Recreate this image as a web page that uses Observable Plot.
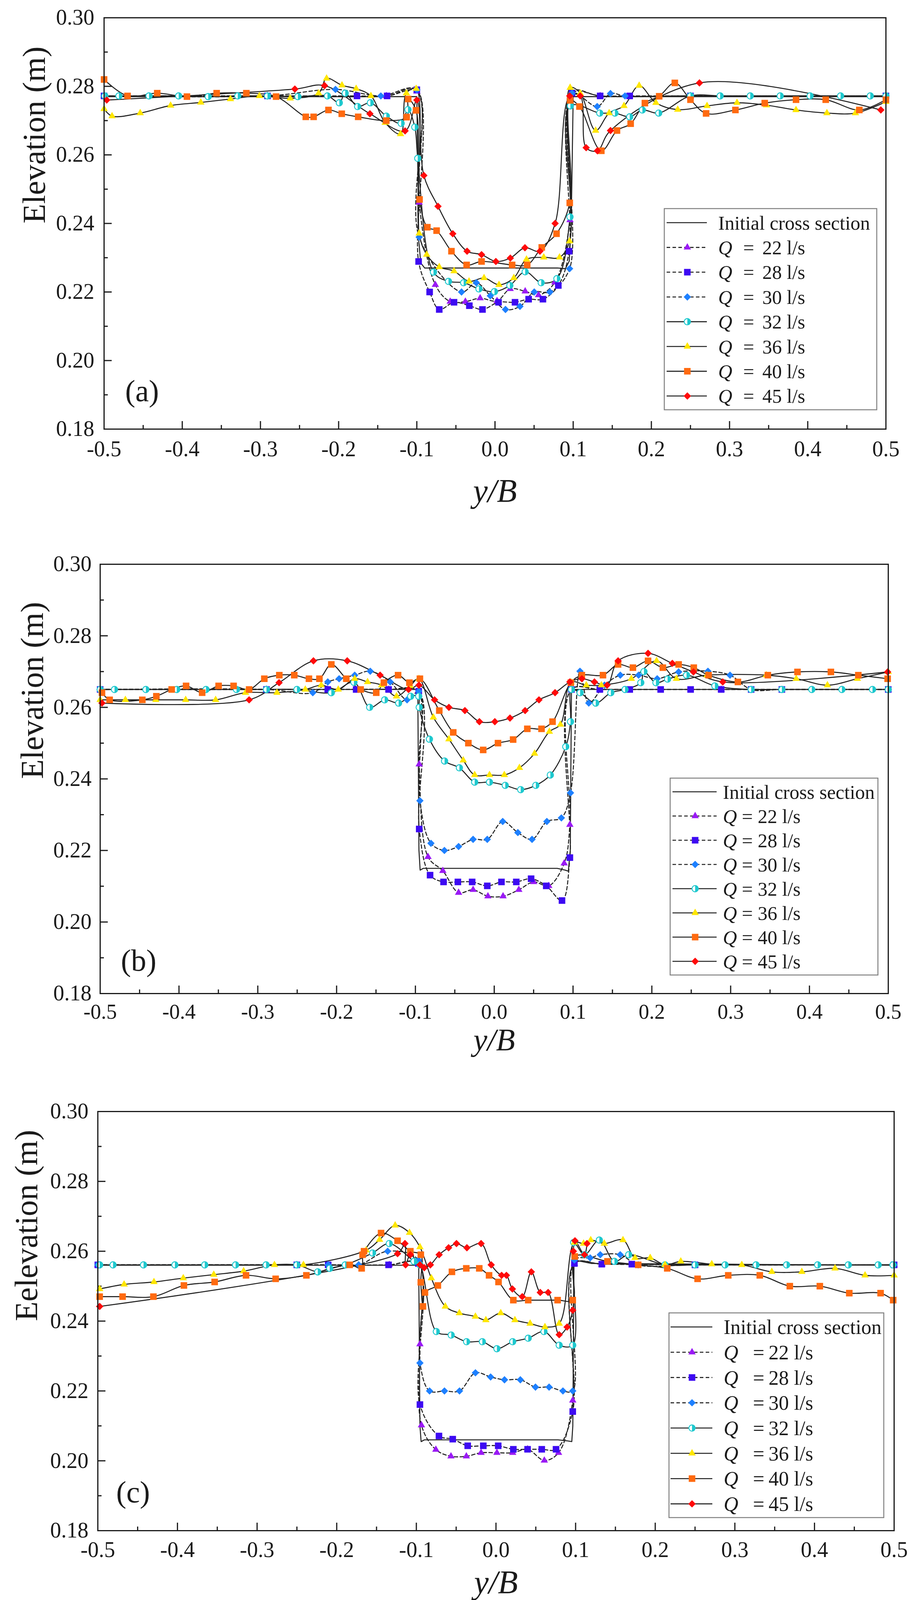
<!DOCTYPE html>
<html>
<head>
<meta charset="utf-8">
<script src="https://cdn.jsdelivr.net/npm/d3@7"></script>
<script src="https://cdn.jsdelivr.net/npm/@observablehq/plot@0.6"></script>
<style>
  html,body{margin:0;padding:0;background:#fff;overflow:hidden;}
  #c{position:relative;width:2366px;height:4132px;background:#fff;}
  #c svg{position:absolute;left:0;}
  #c svg text{font-family:"Liberation Serif","Times New Roman",Times,serif !important;font-variant:normal !important;}
  #c svg text.tick-x{font-size:56px !important;}
  #c svg text.tick-x54{font-size:54px !important;}
  #c svg text.tick-y{font-size:56px !important;}
</style>
</head>
<body>
<div id="c"></div>
<script>
// ---------- categories / labels ----------
const FLOWS = [22, 28, 30, 32, 36, 40, 45];
const COLORS = ["#9A1AF5", "#3D0AF2", "#1E80FF", "#1EC8CE", "#FFE600", "#FF6A10", "#FF0A0A"];
const SYMBOLS = ["triangle", "square", "diamond2", "circle", "triangle", "square", "diamond2"];
const DASHED = [true, true, true, false, false, false, false];
const LEGEND_INIT = "Initial cross section";
const X_MAJOR = [-0.5, -0.4, -0.3, -0.2, -0.1, 0.0, 0.1, 0.2, 0.3, 0.4, 0.5];
const X_MINOR = [-0.45, -0.35, -0.25, -0.15, -0.05, 0.05, 0.15, 0.25, 0.35, 0.45];
const Y_MAJOR = [0.18, 0.20, 0.22, 0.24, 0.26, 0.28, 0.30];
const Y_MINOR = [0.19, 0.21, 0.23, 0.25, 0.27, 0.29];

// ---------- panel (a) ----------
const aInit = [[-0.5,0.277],[-0.1,0.277],[-0.0975,0.235],[-0.095,0.2285],[-0.09,0.227],[0.08,0.227],[0.09,0.2268],[0.095,0.229],[0.0975,0.24],[0.1,0.277],[0.5,0.277]];
const a22 = [[-0.5,0.2772],[-0.291,0.2772],[-0.139,0.2772],[-0.1,0.2785],[-0.097,0.2461],[-0.0763,0.2221],[-0.0573,0.2172],[-0.0379,0.2172],[-0.019,0.2182],[0.0026,0.2174],[0.0194,0.2209],[0.0386,0.2202],[0.0557,0.2191],[0.0765,0.2228],[0.0959,0.241],[0.0985,0.2785],[0.1345,0.2772],[0.25,0.2772],[0.5,0.2772]];
const a28 = [[-0.5,0.2772],[-0.291,0.2772],[-0.1765,0.2772],[-0.138,0.2772],[-0.1,0.279],[-0.0977,0.2289],[-0.0836,0.22],[-0.0713,0.2149],[-0.0524,0.217],[-0.0328,0.216],[-0.016,0.2149],[0.0045,0.217],[0.0256,0.217],[0.043,0.2179],[0.0613,0.2179],[0.081,0.2219],[0.0948,0.2319],[0.0985,0.278],[0.1345,0.2772],[0.1723,0.2772],[0.25,0.2772],[0.5,0.2772]];
const a30 = [[-0.5,0.2772],[-0.291,0.2772],[-0.204,0.2791],[-0.146,0.2772],[-0.1,0.279],[-0.097,0.236],[-0.0428,0.22],[-0.0239,0.2227],[-0.006,0.2189],[0.0134,0.2149],[0.0319,0.2158],[0.0502,0.22],[0.0702,0.22],[0.0954,0.2268],[0.0985,0.278],[0.1307,0.2741],[0.1477,0.2779],[0.1663,0.2772],[0.25,0.2772],[0.5,0.2772]];
const a32 = [[-0.499,0.2772],[-0.481,0.2772],[-0.4425,0.2772],[-0.4046,0.2772],[-0.3668,0.277],[-0.329,0.2772],[-0.291,0.2772],[-0.2521,0.277],[-0.2143,0.2772],[-0.1991,0.2752],[-0.1916,0.278],[-0.1757,0.2741],[-0.1594,0.2752],[-0.139,0.2713],[-0.12,0.2692],[-0.1113,0.2732],[-0.1026,0.2681],[-0.0988,0.259],[-0.0787,0.2258],[-0.0595,0.2231],[-0.0401,0.2227],[-0.0205,0.2209],[-0.0007,0.2201],[0.019,0.2219],[0.0386,0.2259],[0.0591,0.2227],[0.0792,0.2239],[0.0959,0.2419],[0.0964,0.2743],[0.134,0.2722],[0.1534,0.2722],[0.1723,0.2711],[0.1885,0.2731],[0.2094,0.2722],[0.25,0.2772],[0.288,0.2772],[0.3265,0.2772],[0.3648,0.2772],[0.403,0.2772],[0.442,0.2772],[0.48,0.2772],[0.5,0.2772]];
const a36 = [[-0.5,0.2734],[-0.4898,0.2713],[-0.4538,0.2722],[-0.4149,0.2744],[-0.3763,0.2753],[-0.3384,0.2763],[-0.3013,0.2772],[-0.262,0.2765],[-0.2256,0.278],[-0.2154,0.2823],[-0.1957,0.2803],[-0.1776,0.2793],[-0.1587,0.2772],[-0.1405,0.2694],[-0.1208,0.2661],[-0.1133,0.278],[-0.1008,0.2793],[-0.097,0.2371],[-0.0874,0.2309],[-0.0713,0.2273],[-0.0524,0.2261],[-0.0332,0.2231],[-0.014,0.2241],[0.0051,0.2221],[0.0241,0.2241],[0.0403,0.2295],[0.0624,0.2301],[0.0825,0.2301],[0.0954,0.2348],[0.0961,0.2796],[0.109,0.278],[0.1287,0.2671],[0.146,0.2722],[0.165,0.2743],[0.1844,0.2802],[0.2058,0.2752],[0.2337,0.2732],[0.2712,0.2743],[0.3095,0.2752],[0.3472,0.2745],[0.385,0.2731],[0.4245,0.2722],[0.461,0.2722],[0.5,0.2755]];
const a40 = [[-0.5,0.282],[-0.47,0.2772],[-0.432,0.278],[-0.394,0.277],[-0.356,0.278],[-0.318,0.278],[-0.28,0.277],[-0.242,0.2711],[-0.232,0.2711],[-0.213,0.2731],[-0.196,0.272],[-0.175,0.2711],[-0.139,0.27],[-0.113,0.271],[-0.111,0.2763],[-0.101,0.273],[-0.0965,0.247],[-0.0865,0.2389],[-0.0747,0.2379],[-0.0557,0.2319],[-0.0363,0.2279],[-0.0172,0.2289],[0.0219,0.2279],[0.0412,0.2279],[0.0598,0.233],[0.0787,0.237],[0.0956,0.246],[0.0961,0.2759],[0.108,0.2741],[0.136,0.2612],[0.156,0.2671],[0.1735,0.2691],[0.1917,0.2751],[0.21,0.2771],[0.23,0.281],[0.25,0.2761],[0.27,0.2721],[0.3075,0.2731],[0.345,0.2751],[0.385,0.2761],[0.423,0.2761],[0.466,0.2731],[0.5,0.2761]];
const a45 = [[-0.4966,0.276],[-0.256,0.2792],[-0.218,0.2802],[-0.16,0.272],[-0.115,0.267],[-0.1,0.276],[-0.091,0.254],[-0.0729,0.245],[-0.054,0.237],[-0.0357,0.2319],[-0.0172,0.2309],[0.0011,0.2289],[0.0196,0.2299],[0.0383,0.2329],[0.0575,0.2319],[0.0769,0.24],[0.0956,0.2772],[0.109,0.2772],[0.1166,0.2621],[0.131,0.2612],[0.1477,0.2671],[0.2615,0.281],[0.4935,0.2731]];

// ---------- panel (b) ----------
const bInit = [[-0.5,0.265],[-0.097,0.265],[-0.0955,0.22],[-0.094,0.2145],[-0.09,0.215],[0.08,0.215],[0.09,0.2145],[0.094,0.2142],[0.0965,0.22],[0.098,0.265],[0.5,0.265]];
const b22 = [[-0.5,0.265],[-0.289,0.265],[-0.2112,0.265],[-0.134,0.265],[-0.0958,0.2645],[-0.0952,0.2441],[-0.084,0.2182],[-0.0652,0.2143],[-0.0452,0.2082],[-0.0268,0.209],[-0.008,0.2072],[0.0112,0.2072],[0.0312,0.209],[0.05,0.2112],[0.0692,0.2101],[0.0888,0.2164],[0.096,0.2272],[0.098,0.265],[0.134,0.265],[0.288,0.265],[0.5,0.265]];
const b28 = [[-0.5,0.265],[-0.289,0.265],[-0.2112,0.265],[-0.1752,0.265],[-0.134,0.265],[-0.0958,0.2645],[-0.0952,0.226],[-0.0814,0.2131],[-0.0643,0.2112],[-0.0461,0.2112],[-0.028,0.2112],[-0.0088,0.2101],[0.0092,0.2112],[0.028,0.2112],[0.0468,0.2121],[0.066,0.2101],[0.086,0.206],[0.096,0.218],[0.098,0.265],[0.134,0.265],[0.172,0.265],[0.2112,0.265],[0.2492,0.265],[0.288,0.265],[0.326,0.265],[0.365,0.265],[0.5,0.265]];
const b30 = [[-0.5,0.265],[-0.289,0.265],[-0.2302,0.2641],[-0.2112,0.2671],[-0.1968,0.268],[-0.177,0.269],[-0.1573,0.2701],[-0.132,0.2671],[-0.1106,0.2621],[-0.0958,0.2645],[-0.0943,0.2339],[-0.0803,0.222],[-0.0632,0.22],[-0.0452,0.2211],[-0.0268,0.2231],[-0.0088,0.2231],[0.0108,0.2281],[0.03,0.225],[0.048,0.2231],[0.0668,0.2281],[0.0852,0.2291],[0.0968,0.2361],[0.1088,0.2701],[0.12,0.2612],[0.14,0.2662],[0.16,0.269],[0.1832,0.269],[0.2068,0.268],[0.234,0.2699],[0.2712,0.2701],[0.2992,0.269],[0.326,0.265],[0.365,0.265],[0.5,0.265]];
const b32 = [[-0.5,0.265],[-0.4818,0.265],[-0.442,0.265],[-0.4028,0.265],[-0.3657,0.265],[-0.327,0.265],[-0.289,0.265],[-0.2503,0.265],[-0.2067,0.2641],[-0.178,0.267],[-0.158,0.26],[-0.139,0.2621],[-0.1213,0.2612],[-0.106,0.2631],[-0.0958,0.2631],[-0.0952,0.26],[-0.0822,0.2511],[-0.063,0.245],[-0.0442,0.2431],[-0.0248,0.2391],[-0.006,0.2391],[0.014,0.2382],[0.0336,0.237],[0.0528,0.2382],[0.0712,0.2411],[0.0908,0.249],[0.0968,0.256],[0.098,0.265],[0.109,0.2641],[0.1288,0.2612],[0.148,0.2641],[0.166,0.265],[0.186,0.2669],[0.19,0.27],[0.2052,0.2669],[0.22,0.2679],[0.244,0.269],[0.28,0.266],[0.326,0.265],[0.365,0.265],[0.403,0.265],[0.4412,0.265],[0.48,0.265],[0.5,0.265]];
const b36 = [[-0.5,0.2621],[-0.468,0.2621],[-0.4294,0.2621],[-0.3915,0.2621],[-0.3535,0.2621],[-0.3156,0.2641],[-0.2757,0.2641],[-0.2397,0.265],[-0.2195,0.2662],[-0.1979,0.265],[-0.177,0.268],[-0.1607,0.2671],[-0.1429,0.2662],[-0.124,0.2631],[-0.1068,0.266],[-0.0955,0.268],[-0.0772,0.2572],[-0.0575,0.2511],[-0.0393,0.2452],[-0.0248,0.2411],[-0.006,0.2411],[0.0128,0.2411],[0.032,0.2431],[0.0512,0.2471],[0.07,0.2532],[0.084,0.2552],[0.0975,0.267],[0.1168,0.2662],[0.136,0.2662],[0.174,0.268],[0.206,0.273],[0.2312,0.268],[0.27,0.269],[0.3452,0.269],[0.3832,0.268],[0.4228,0.2662],[0.4608,0.268],[0.5,0.2699]];
const b40 = [[-0.4977,0.2641],[-0.488,0.2621],[-0.4465,0.2621],[-0.4287,0.2631],[-0.4093,0.265],[-0.391,0.266],[-0.3706,0.2641],[-0.3497,0.266],[-0.3307,0.266],[-0.311,0.265],[-0.2917,0.268],[-0.2727,0.269],[-0.2537,0.269],[-0.2351,0.268],[-0.2218,0.268],[-0.2067,0.272],[-0.1877,0.268],[-0.1695,0.265],[-0.1497,0.2641],[-0.14,0.2669],[-0.122,0.269],[-0.1076,0.2669],[-0.0943,0.268],[-0.0697,0.2591],[-0.052,0.253],[-0.0328,0.25],[-0.014,0.2481],[0.0048,0.25],[0.024,0.251],[0.042,0.254],[0.06,0.254],[0.074,0.256],[0.0972,0.2669],[0.1112,0.269],[0.138,0.269],[0.1572,0.272],[0.176,0.2711],[0.1952,0.273],[0.214,0.2711],[0.234,0.272],[0.2532,0.2711],[0.272,0.269],[0.3092,0.2671],[0.3472,0.269],[0.3848,0.2699],[0.4272,0.2699],[0.462,0.269],[0.4992,0.268]];
const b45 = [[-0.4977,0.2612],[-0.311,0.2621],[-0.273,0.2669],[-0.2294,0.273],[-0.1865,0.273],[-0.1448,0.269],[-0.1087,0.265],[-0.0955,0.2662],[-0.0757,0.2621],[-0.0575,0.26],[-0.0372,0.2591],[-0.0188,0.256],[0.0008,0.256],[0.02,0.257],[0.0392,0.2591],[0.0568,0.2621],[0.0772,0.2641],[0.096,0.2671],[0.1112,0.268],[0.1272,0.2671],[0.1432,0.2662],[0.1572,0.273],[0.1952,0.2751],[0.226,0.2723],[0.2528,0.2699],[0.29,0.2671],[0.4992,0.2699]];

// ---------- panel (c) ----------
const cInit = [[-0.5,0.256],[-0.097,0.256],[-0.0955,0.21],[-0.094,0.2055],[-0.09,0.206],[0.078,0.206],[0.09,0.2057],[0.0952,0.2055],[0.0965,0.21],[0.098,0.2575],[0.12,0.2565],[0.5,0.256]];
const c22 = [[-0.5,0.2561],[-0.2501,0.2561],[-0.2107,0.2561],[-0.134,0.2561],[-0.0975,0.2565],[-0.0955,0.2334],[-0.0936,0.2102],[-0.0755,0.2032],[-0.0565,0.2013],[-0.0372,0.2013],[-0.0187,0.2023],[0.0012,0.2023],[0.021,0.2023],[0.0397,0.2033],[0.0607,0.2001],[0.0786,0.2023],[0.0964,0.2173],[0.0985,0.2565],[0.1329,0.2563],[0.25,0.2561],[0.5,0.2561]];
const c28 = [[-0.5,0.2561],[-0.2501,0.2561],[-0.2107,0.2561],[-0.1349,0.2561],[-0.0975,0.2565],[-0.0955,0.2161],[-0.0716,0.2071],[-0.0543,0.2062],[-0.0355,0.2043],[-0.0159,0.2043],[0.0028,0.2043],[0.0218,0.2033],[0.0397,0.2033],[0.0575,0.2033],[0.0754,0.2033],[0.0964,0.2141],[0.0985,0.2565],[0.1329,0.2563],[0.1706,0.2563],[0.25,0.2561],[0.5,0.2561]];
const c30 = [[-0.5,0.2561],[-0.2501,0.2561],[-0.2107,0.2561],[-0.1724,0.2561],[-0.136,0.26],[-0.0975,0.2575],[-0.0955,0.228],[-0.0834,0.22],[-0.0647,0.22],[-0.0458,0.22],[-0.0258,0.2252],[-0.0067,0.224],[0.0107,0.2232],[0.0306,0.2232],[0.0496,0.2211],[0.0667,0.2211],[0.0841,0.22],[0.0964,0.22],[0.0985,0.2575],[0.1183,0.2581],[0.131,0.259],[0.156,0.259],[0.1786,0.2561],[0.25,0.2561],[0.5,0.2561]];
const c32 = [[-0.4977,0.2561],[-0.4809,0.2561],[-0.4426,0.2561],[-0.4032,0.2561],[-0.3657,0.2561],[-0.327,0.2561],[-0.2887,0.2561],[-0.2501,0.2561],[-0.2238,0.2541],[-0.2088,0.2551],[-0.1893,0.2561],[-0.155,0.2595],[-0.134,0.2622],[-0.103,0.2571],[-0.0955,0.2561],[-0.0749,0.237],[-0.0562,0.236],[-0.0369,0.2341],[-0.0171,0.2341],[0.0012,0.2321],[0.021,0.2341],[0.0405,0.2351],[0.0603,0.237],[0.0794,0.2331],[0.0964,0.2331],[0.0975,0.2625],[0.1111,0.259],[0.1298,0.2632],[0.1488,0.2571],[0.1667,0.259],[0.2123,0.2561],[0.25,0.2561],[0.2877,0.2561],[0.3266,0.2561],[0.365,0.2561],[0.404,0.2561],[0.4425,0.2561],[0.48,0.2561],[0.4985,0.2561]];
const c36 = [[-0.4977,0.2492],[-0.467,0.2505],[-0.4295,0.2512],[-0.3927,0.2523],[-0.3544,0.2533],[-0.3169,0.2543],[-0.2782,0.2561],[-0.2418,0.2561],[-0.163,0.2603],[-0.1462,0.2633],[-0.1266,0.2674],[-0.1086,0.2653],[-0.0955,0.2612],[-0.0812,0.2523],[-0.0636,0.2442],[-0.046,0.2423],[-0.0258,0.2413],[-0.0127,0.2403],[0.006,0.2423],[0.0238,0.2403],[0.0429,0.2393],[0.0615,0.2383],[0.0794,0.2393],[0.0985,0.2625],[0.11,0.2622],[0.119,0.2632],[0.136,0.2622],[0.1595,0.2632],[0.1746,0.2581],[0.1937,0.2581],[0.2123,0.2561],[0.2321,0.2571],[0.271,0.2563],[0.3087,0.2561],[0.3464,0.2541],[0.3841,0.2541],[0.4258,0.2551],[0.4635,0.2531],[0.5,0.2531]];
const c40 = [[-0.4977,0.247],[-0.4689,0.247],[-0.4302,0.247],[-0.3919,0.2502],[-0.3533,0.2512],[-0.3139,0.2531],[-0.2767,0.2521],[-0.2381,0.2531],[-0.1837,0.2561],[-0.1687,0.2551],[-0.1675,0.259],[-0.1657,0.26],[-0.1443,0.2652],[-0.1236,0.263],[-0.1075,0.26],[-0.0944,0.259],[-0.0944,0.2511],[-0.0917,0.2442],[-0.0892,0.2482],[-0.073,0.2502],[-0.0553,0.2541],[-0.0373,0.2551],[-0.021,0.2551],[-0.0087,0.2531],[0.0032,0.2512],[0.0218,0.246],[0.0405,0.246],[0.0774,0.246],[0.0964,0.246],[0.099,0.2585],[0.14,0.2571],[0.1786,0.2561],[0.2151,0.2551],[0.2532,0.2521],[0.2917,0.2531],[0.3313,0.2531],[0.369,0.25],[0.4067,0.25],[0.4437,0.248],[0.483,0.248],[0.4988,0.246]];
const c45 = [[-0.4977,0.2442],[-0.1236,0.2593],[-0.1143,0.2622],[-0.1135,0.2561],[-0.1075,0.259],[-0.0955,0.2561],[-0.09,0.2553],[-0.0824,0.2561],[-0.0714,0.259],[-0.0595,0.261],[-0.0496,0.2622],[-0.0365,0.261],[-0.0187,0.2622],[-0.006,0.2561],[0.0071,0.2531],[0.0131,0.2531],[0.0206,0.2492],[0.033,0.247],[0.0444,0.2541],[0.0556,0.2482],[0.0655,0.2482],[0.0794,0.2361],[0.0893,0.2383],[0.0964,0.2431],[0.0972,0.26],[0.0992,0.263],[0.1111,0.259],[0.1143,0.2622]];

// ---------- drawing ----------
const FONT = '"Liberation Serif","Times New Roman",Times,serif';
const INK = "#1a1a1a";
const LINE = "#222";
const R = [7, 9.5, 8.5, 8.5, 7, 9.5, 8.5];
const halfLeft = {draw(ctx, size) {
  const r = Math.sqrt(size / Math.PI);
  ctx.moveTo(0, -r);
  ctx.arc(0, 0, r, -Math.PI / 2, Math.PI / 2, true);
  ctx.closePath();
}};
const D3SYM = {triangle: d3.symbolTriangle, square: d3.symbolSquare, diamond2: d3.symbolDiamond2, circle: d3.symbolCircle};

function seriesMarks(init, sets) {
  const marks = [Plot.line(init, {x: d => d[0], y: d => d[1], stroke: LINE, strokeWidth: 2.6})];
  sets.forEach((pts, i) => {
    marks.push(Plot.line(pts, {x: d => d[0], y: d => d[1], curve: "catmull-rom", stroke: LINE,
      strokeWidth: 2.6, strokeDasharray: DASHED[i] ? "9,6" : undefined}));
  });
  sets.forEach((pts, i) => {
    if (SYMBOLS[i] === "circle") {
      marks.push(Plot.dot(pts, {x: d => d[0], y: d => d[1], r: R[i], symbol: "circle", fill: COLORS[i], stroke: COLORS[i], strokeWidth: 1.5}));
      marks.push(Plot.dot(pts, {x: d => d[0], y: d => d[1], r: R[i] - 1.6, symbol: halfLeft, fill: "white"}));
    } else {
      marks.push(Plot.dot(pts, {x: d => d[0], y: d => d[1], r: R[i], symbol: SYMBOLS[i], fill: COLORS[i]}));
    }
  });
  return marks;
}

function axisMarks(p) {
  return [
    Plot.axisX(X_MAJOR, {tickSize: -20, strokeWidth: 3, stroke: INK, tickFormat: () => ""}),
    Plot.axisX(X_MINOR, {tickSize: -10, strokeWidth: 3, stroke: INK, tickFormat: () => ""}),
    Plot.axisX(X_MAJOR, {tickSize: 0, tickPadding: p.xPad, tickFormat: d => d.toFixed(1), fill: INK, fontSize: p.xFs, fontFamily: FONT}),
    Plot.axisY(Y_MAJOR, {tickSize: -20, strokeWidth: 3, stroke: INK, tickFormat: () => ""}),
    Plot.axisY(Y_MINOR, {tickSize: -10, strokeWidth: 3, stroke: INK, tickFormat: () => ""}),
    Plot.axisY(Y_MAJOR, {tickSize: 0, tickPadding: p.yPad, tickFormat: d => d.toFixed(2), fill: INK, fontSize: 56, fontFamily: FONT})
  ];
}

function drawLegend(svg, L) {
  const g = d3.select(svg).append("g").attr("font-family", FONT).attr("font-size", L.fs)
    .attr("fill", INK).attr("text-anchor", "start").style("font-size", L.fs + "px");
  g.append("rect").attr("x", L.x0).attr("y", L.y0).attr("width", L.x1 - L.x0).attr("height", L.y1 - L.y0)
    .attr("fill", "white").attr("stroke", "#808080").attr("stroke-width", 2.5);
  for (let i = 0; i < 8; i++) {
    const y = L.row0 + i * L.dy;
    const ln = g.append("line").attr("x1", L.lx1).attr("x2", L.lx2).attr("y1", y).attr("y2", y)
      .attr("stroke", LINE).attr("stroke-width", 2.6);
    if (i >= 1 && i <= 3) ln.attr("stroke-dasharray", "9,6");
    if (i === 0) {
      g.append("text").attr("x", L.tx).attr("y", y).attr("dy", "0.35em").text(LEGEND_INIT);
      continue;
    }
    const k = i - 1;
    const size = Math.PI * R[k] * R[k];
    if (SYMBOLS[k] === "circle") {
      g.append("path").attr("transform", `translate(${L.mx},${y})`).attr("d", d3.symbol(d3.symbolCircle, size)())
        .attr("fill", COLORS[k]).attr("stroke", COLORS[k]).attr("stroke-width", 1.5);
      const r2 = R[k] - 1.6;
      g.append("path").attr("transform", `translate(${L.mx},${y})`).attr("d", d3.symbol(halfLeft, Math.PI * r2 * r2)())
        .attr("fill", "white");
    } else {
      g.append("path").attr("transform", `translate(${L.mx},${y})`).attr("d", d3.symbol(D3SYM[SYMBOLS[k]], size)())
        .attr("fill", COLORS[k]);
    }
    if (L.wide) {
      g.append("text").attr("x", L.tx).attr("y", y).attr("dy", "0.35em").attr("font-style", "italic").text("Q");
      g.append("text").attr("x", L.ex).attr("y", y).attr("dy", "0.35em").text("=");
      g.append("text").attr("x", L.nx).attr("y", y).attr("dy", "0.35em").text(`${FLOWS[k]} l/s`);
    } else {
      const t = g.append("text").attr("x", L.tx).attr("y", y).attr("dy", "0.35em");
      t.append("tspan").attr("font-style", "italic").text("Q");
      t.append("tspan").text(` = ${FLOWS[k]} l/s`);
    }
  }
}

function panel(p) {
  const svg = Plot.plot({
    width: 2366, height: p.height,
    marginLeft: p.ml, marginRight: p.mr, marginTop: p.mt, marginBottom: p.mb,
    style: `font-family: ${FONT}; font-size: 56px; background: none; color: ${INK}; overflow: visible;`,
    x: {domain: [-0.5, 0.5]},
    y: {domain: [0.18, 0.30]},
    marks: [
      ...axisMarks(p),
      ...seriesMarks(p.init, p.sets),
      Plot.frame({stroke: INK, strokeWidth: 3}),
      Plot.text([p.tag], {text: d => d, frameAnchor: "bottom-left", dx: p.tagDx, dy: p.tagDy, textAnchor: "start", lineAnchor: "middle", fontSize: 78, fontFamily: FONT, fill: INK}),
      Plot.text([p.ylabel], {text: d => d, frameAnchor: "left", rotate: -90, dx: p.ylDx, lineAnchor: "middle", fontSize: 82, fontFamily: FONT, fill: INK}),
      Plot.text(["y/B"], {text: d => d, frameAnchor: "bottom", dy: p.xlDy, lineAnchor: "middle", fontSize: p.xlFs, fontStyle: "italic", fontFamily: FONT, fill: INK})
    ]
  });
  // tick label typography (serif, sized as in the reference)
  d3.select(svg).selectAll("text").each(function() {
    const s = this.textContent.trim();
    if (/^-?\d\.\d$/.test(s)) this.setAttribute("class", p.xFs === 54 ? "tick-x54" : "tick-x");
    else if (/^\d\.\d\d$/.test(s)) this.setAttribute("class", "tick-y");
  });
  svg.style.top = p.top + "px";
  drawLegend(svg, p.legend);
  document.getElementById("c").appendChild(svg);
}

panel({
  top: 0, height: 1330, ml: 266, mr: 98, mt: 45, mb: 232, xPad: 30, yPad: 25, xFs: 56, xlFs: 84,
  init: aInit, sets: [a22, a28, a30, a32, a36, a40, a45],
  tag: "(a)", tagDx: 54, tagDy: -96, ylabel: "Elevation (m)", ylDx: -178, xlDy: 160,
  legend: {x0: 1701, x1: 2245, y0: 534, y1: 1049, row0: 570, dy: 63.4, lx1: 1707, lx2: 1810, mx: 1760, tx: 1839, ex: 1903, nx: 1952, fs: 50, wide: true}
});
panel({
  top: 1300, height: 1420, ml: 256, mr: 92, mt: 144, mb: 177, xPad: 26, yPad: 22, xFs: 54, xlFs: 80,
  init: bInit, sets: [b22, b28, b30, b32, b36, b40, b45],
  tag: "(b)", tagDx: 53, tagDy: -83, ylabel: "Elevation (m)", ylDx: -173, xlDy: 120,
  legend: {x0: 1716, x1: 2248, y0: 692, y1: 1196, row0: 727, dy: 62, lx1: 1722, lx2: 1835, mx: 1780, tx: 1851, fs: 50, wide: false}
});
panel({
  top: 2750, height: 1375, ml: 250, mr: 77, mt: 95, mb: 207, xPad: 28, yPad: 24, xFs: 56, xlFs: 84,
  init: cInit, sets: [c22, c28, c30, c32, c36, c40, c45],
  tag: "(c)", tagDx: 47, tagDy: -97, ylabel: "Eelevation (m)", ylDx: -182, xlDy: 134,
  legend: {x0: 1713, x1: 2263, y0: 611, y1: 1135, row0: 647, dy: 64.7, lx1: 1717, lx2: 1824, mx: 1772, tx: 1853, ex: 1928, nx: 1968, fs: 52, wide: true}
});
</script>
</body>
</html>
